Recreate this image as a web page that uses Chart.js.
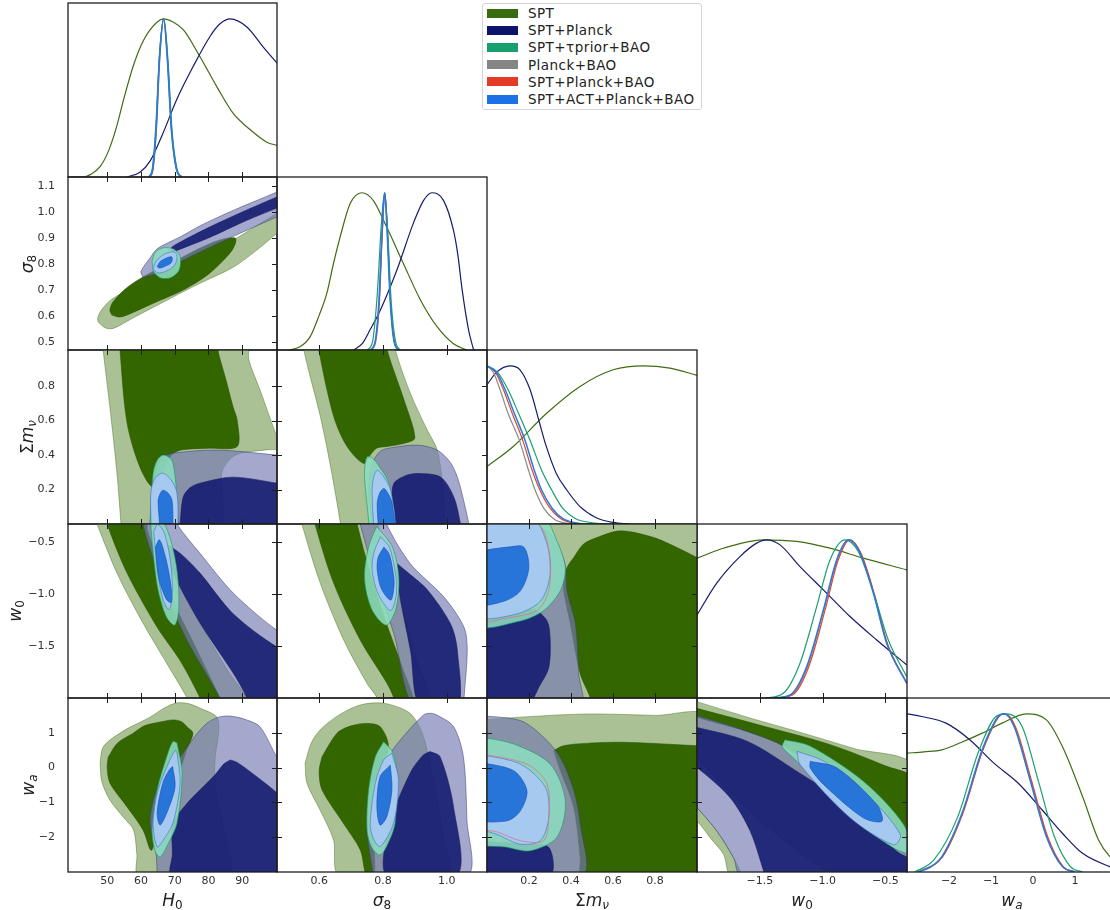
<!DOCTYPE html>
<html><head><meta charset="utf-8">
<script src="https://cdn.jsdelivr.net/npm/chart.js@4.4.1/dist/chart.umd.min.js"></script>
<style>
html,body{margin:0;padding:0;background:#fff;width:1110px;height:910px;overflow:hidden;position:relative;font-family:"DejaVu Sans",sans-serif;}
canvas{position:absolute;}
#legend{position:absolute;left:482px;top:3px;width:220px;height:107px;border:1px solid #d6d6d6;border-radius:3px;background:#fff;box-sizing:border-box;z-index:5;}
.li{position:absolute;left:4px;height:17px;display:flex;align-items:center;font-size:13.5px;letter-spacing:0.45px;color:#222;white-space:nowrap;}
.sw{width:31px;height:9px;margin-right:10px;flex:none;}
.ttl{position:absolute;font-family:"DejaVu Sans",sans-serif;font-size:17px;color:#222;white-space:nowrap;line-height:1;z-index:4;}
.ttl sub{font-size:12px;vertical-align:-0.3em;line-height:0;}
</style></head><body>
<div id="legend"></div>
<script>
// ---------------- tick labels ----------------
const H0_TICKS = [50, 60, 70, 80, 90];
const S8_XTICKS = [0.6, 0.8, 1.0];
const S8_YTICKS = [0.5, 0.6, 0.7, 0.8, 0.9, 1.0, 1.1];
const MNU_TICKS = [0.2, 0.4, 0.6, 0.8];
const W0_TICKS = [-1.5, -1.0, -0.5];
const WA_TICKS = [-2, -1, 0, 1];

const SERIES_NAMES = ['SPT', 'SPT+Planck', 'SPT+\u03c4prior+BAO', 'Planck+BAO', 'SPT+Planck+BAO', 'SPT+ACT+Planck+BAO'];

// ---------------- 1D marginals (normalised) ----------------
const H0_1D_SPT = [[38.4,0],[42.9,0],[45,0.015],[47.9,0.065],[50.5,0.17],[52.8,0.318],[55,0.5],[57.7,0.70],[60,0.83],[62.7,0.93],[66.6,1.0],[69.5,0.98],[72.6,0.93],[77.5,0.76],[82.5,0.57],[87.4,0.40],[92.3,0.30],[97.3,0.22],[100.3,0.20]];
const H0_1D_SPTPL = [[55.8,0],[59.7,0.03],[62.7,0.10],[66.6,0.28],[70.6,0.49],[75.5,0.70],[80.5,0.89],[83.5,0.97],[86.4,1.0],[91.3,0.95],[96.3,0.82],[100.3,0.72]];
const H0_1D_PLBAO = [[62.6,0],[63.6,0.05],[64.6,0.3],[65.6,0.75],[66.8,1.0],[67.9,0.75],[69.1,0.3],[70.6,0.05],[72,0]];
const H0_1D_SPTPLBAO = [[62.5,0],[63.5,0.05],[64.5,0.31],[65.5,0.76],[66.7,1.0],[67.8,0.76],[69,0.31],[70.5,0.05],[72,0]];
const H0_1D_TAU = [[62.3,0],[63.4,0.06],[64.4,0.32],[65.5,0.78],[66.8,1.0],[68.0,0.74],[69.2,0.3],[70.7,0.05],[72.2,0]];
const H0_1D_ALL = [[62.5,0],[63.5,0.05],[64.5,0.3],[65.5,0.75],[66.7,1.0],[67.8,0.75],[69,0.3],[70.5,0.05],[72,0]];

const S8_1D_SPT = [[0.509,0],[0.54,0.02],[0.572,0.085],[0.6,0.22],[0.624,0.36],[0.645,0.55],[0.666,0.72],[0.697,0.93],[0.734,1.0],[0.770,0.95],[0.812,0.78],[0.864,0.55],[0.917,0.32],[0.969,0.15],[1.021,0.04],[1.063,0]];
const S8_1D_SPTPL = [[0.708,0],[0.735,0.04],[0.760,0.13],[0.791,0.25],[0.844,0.51],[0.896,0.81],[0.927,0.95],[0.953,1.0],[0.990,0.95],[1.021,0.76],[1.035,0.6],[1.047,0.40],[1.068,0.13],[1.084,0]];
const S8_1D_PLBAO = [[0.762,0],[0.777,0.05],[0.789,0.3],[0.798,0.75],[0.806,1.0],[0.814,0.75],[0.824,0.3],[0.836,0.05],[0.85,0]];
const S8_1D_SPTPLBAO = [[0.761,0],[0.776,0.05],[0.788,0.3],[0.798,0.75],[0.806,1.0],[0.814,0.76],[0.824,0.3],[0.836,0.05],[0.85,0]];
const S8_1D_TAU = [[0.75,0],[0.767,0.05],[0.782,0.35],[0.795,0.8],[0.805,1.0],[0.815,0.75],[0.826,0.3],[0.84,0.05],[0.855,0]];
const S8_1D_ALL = [[0.76,0],[0.775,0.05],[0.787,0.3],[0.797,0.75],[0.805,1.0],[0.813,0.75],[0.823,0.3],[0.835,0.05],[0.85,0]];

const MNU_1D_SPT = [[0,0.363],[0.125,0.49],[0.284,0.70],[0.443,0.87],[0.601,0.975],[0.745,1.0],[0.871,0.985],[1.0,0.94]];
const MNU_1D_SPTPL = [[0,0.88],[0.046,0.96],[0.11,1.0],[0.157,0.975],[0.205,0.85],[0.25,0.64],[0.28,0.50],[0.33,0.32],[0.38,0.215],[0.443,0.11],[0.52,0.04],[0.6,0.01],[0.68,0]];
const MNU_1D_PLBAO = [[0,1.0],[0.03,0.96],[0.062,0.85],[0.1,0.70],[0.154,0.53],[0.2,0.33],[0.229,0.215],[0.27,0.10],[0.32,0.03],[0.38,0.005],[0.45,0]];
const MNU_1D_SPTPLBAO = [[0,1.0],[0.04,0.96],[0.078,0.85],[0.12,0.70],[0.17,0.53],[0.215,0.34],[0.252,0.215],[0.3,0.10],[0.35,0.035],[0.42,0.005],[0.5,0]];
const MNU_1D_TAU = [[0,1.0],[0.05,0.96],[0.1,0.85],[0.15,0.70],[0.205,0.53],[0.26,0.34],[0.308,0.215],[0.36,0.10],[0.42,0.035],[0.5,0.008],[0.58,0]];
const MNU_1D_ALL = [[0,1.0],[0.045,0.96],[0.086,0.85],[0.13,0.70],[0.181,0.53],[0.225,0.34],[0.26,0.215],[0.31,0.10],[0.36,0.035],[0.43,0.005],[0.5,0]];

const W0_1D_SPT = [[-2.0,0.884],[-1.79,0.947],[-1.472,1.0],[-1.206,0.99],[-0.941,0.947],[-0.676,0.884],[-0.33,0.81]];
const W0_1D_SPTPL = [[-2.0,0.525],[-1.843,0.726],[-1.658,0.894],[-1.525,0.979],[-1.445,1.0],[-1.339,0.968],[-1.18,0.831],[-0.994,0.684],[-0.782,0.515],[-0.569,0.367],[-0.33,0.209]];
const W0_1D_PLBAO = [[-1.38,0],[-1.25,0.019],[-1.12,0.198],[-0.99,0.557],[-0.882,0.873],[-0.79,1.0],[-0.698,0.916],[-0.593,0.663],[-0.487,0.346],[-0.33,0.095]];
const W0_1D_SPTPLBAO = [[-1.37,0],[-1.24,0.019],[-1.11,0.198],[-0.98,0.557],[-0.875,0.873],[-0.785,1.0],[-0.695,0.916],[-0.59,0.663],[-0.485,0.346],[-0.33,0.093]];
const W0_1D_TAU = [[-1.45,0],[-1.313,0.03],[-1.18,0.22],[-1.047,0.578],[-0.941,0.873],[-0.822,1.0],[-0.716,0.926],[-0.596,0.67],[-0.477,0.367],[-0.33,0.135]];
const W0_1D_ALL = [[-1.392,0],[-1.26,0.019],[-1.127,0.198],[-0.994,0.557],[-0.888,0.873],[-0.795,1.0],[-0.702,0.916],[-0.596,0.663],[-0.49,0.346],[-0.33,0.093]];

const WA_1D_SPT = [[-3.0,0.751],[-2.6,0.76],[-2.17,0.772],[-1.7,0.82],[-1.21,0.878],[-0.74,0.941],[-0.16,1.0],[0.32,0.962],[0.70,0.793],[1.18,0.477],[1.56,0.203],[1.83,0.097],[2.0,0.06]];
const WA_1D_SPTPL = [[-3.0,1.0],[-2.65,0.983],[-2.07,0.941],[-1.5,0.835],[-0.93,0.688],[-0.35,0.561],[0.22,0.392],[0.70,0.245],[1.18,0.118],[1.83,0.034],[2.0,0.02]];
const WA_1D_PLBAO = [[-2.74,0],[-2.16,0.097],[-1.68,0.371],[-1.2,0.772],[-0.82,0.983],[-0.68,1.0],[-0.44,0.92],[-0.06,0.582],[0.33,0.223],[0.71,0.034],[1.0,0]];
const WA_1D_SPTPLBAO = [[-2.72,0],[-2.15,0.097],[-1.67,0.371],[-1.19,0.772],[-0.81,0.983],[-0.66,1.0],[-0.42,0.92],[-0.04,0.582],[0.35,0.223],[0.72,0.034],[1.0,0]];
const WA_1D_TAU = [[-2.82,0],[-2.36,0.076],[-1.79,0.35],[-1.31,0.751],[-0.88,0.983],[-0.64,1.0],[-0.26,0.92],[0.12,0.582],[0.51,0.223],[0.89,0.034],[1.18,0]];
const WA_1D_ALL = [[-2.75,0],[-2.45,0.03],[-2.17,0.097],[-1.69,0.371],[-1.21,0.772],[-0.83,0.983],[-0.69,1.0],[-0.45,0.92],[-0.07,0.582],[0.32,0.223],[0.70,0.034],[0.99,0]];

// ---------------- 2D contours (x, y) : 95% and 68% regions ----------------
const S8_H0_SPT_95 = [[47.4,0.575],[49.5,0.553],[52,0.552],[58,0.594],[67.7,0.660],[77,0.722],[87.3,0.787],[95,0.86],[100.3,0.918],[106,0.97],[106,1.04],[100.3,0.995],[94,0.945],[87.3,0.892],[78,0.84],[69.5,0.788],[57.7,0.711],[51,0.66],[48.2,0.62],[47.2,0.59]];
const S8_H0_SPT_68 = [[51.4,0.603],[53.5,0.595],[55.9,0.603],[64,0.65],[72.5,0.699],[80,0.76],[86.4,0.842],[88,0.88],[87.9,0.900],[84,0.895],[77.5,0.861],[70,0.81],[62.7,0.765],[56,0.71],[51.7,0.653],[50.8,0.62]];
const S8_H0_SPTPL_95 = [[60.6,0.749],[65,0.765],[75,0.83],[88,0.91],[100.3,0.981],[106,1.01],[106,1.11],[100.3,1.077],[88,1.01],[78,0.95],[71.6,0.904],[65,0.86],[62.7,0.823],[60.0,0.77]];
const S8_H0_SPTPL_68 = [[69.5,0.846],[80,0.90],[90,0.96],[100.3,1.015],[106,1.04],[106,1.085],[100.3,1.058],[90,1.0],[80,0.94],[70.1,0.873],[68.8,0.858]];
const S8_H0_TAU_95 = [[63.3,0.81],[64.2,0.845],[66.5,0.862],[69.5,0.858],[71.6,0.83],[71.3,0.775],[69,0.748],[66,0.745],[63.8,0.77]];
const S8_H0_ALL_95 = [[63.6,0.78],[64.5,0.81],[67,0.838],[69.8,0.846],[70.7,0.83],[70,0.795],[67.5,0.772],[65,0.765]];
const S8_H0_ALL_68 = [[64.8,0.79],[65.8,0.81],[68,0.825],[69.2,0.826],[69,0.805],[67,0.79],[65.5,0.784]];

const MNU_H0_SPT_95 = [[48.5,1.1],[48.8,1.01],[50.8,0.679],[52.9,0.295],[54.1,0.0],[54.3,-0.05],[83,-0.05],[84,0.3],[88,0.40],[97,0.43],[102,0.44],[100.3,0.506],[95.3,0.777],[92,0.95],[91,1.1]];
const MNU_H0_SPT_68 = [[53.7,1.1],[53.8,1.01],[55.9,0.586],[59.7,0.33],[63.6,0.213],[66.5,0.3],[69,0.40],[72,0.43],[80,0.44],[88.5,0.45],[88.5,0.603],[87.3,0.679],[85,0.85],[82.8,1.01],[82.6,1.1]];
const MNU_H0_SPTPL_95 = [[62.5,-0.05],[62.7,0.0],[63.3,0.196],[64.8,0.330],[66.5,0.39],[69.5,0.411],[82.5,0.429],[100.3,0.40],[105,0.39],[105,-0.05]];
const MNU_H0_SPTPL_68 = [[71.5,-0.05],[71.6,0.0],[72.5,0.155],[74.5,0.21],[77.5,0.237],[87.3,0.272],[100.3,0.237],[105,0.22],[105,-0.05]];
const MNU_H0_TAU_95 = [[62.5,-0.05],[62.7,0.0],[63.6,0.295],[64.8,0.37],[66.5,0.40],[68.5,0.385],[69.5,0.353],[70.5,0.2],[71.0,0.0],[71.2,-0.05]];
const MNU_H0_ALL_95 = [[63.0,-0.05],[63.0,0.0],[62.9,0.178],[64.0,0.26],[66.3,0.295],[68.8,0.26],[70.7,0.178],[71.0,0.0],[71.0,-0.05]];
const MNU_H0_ALL_68 = [[65.3,-0.05],[65.5,0.0],[65.1,0.138],[65.8,0.18],[66.5,0.196],[68.0,0.18],[69.2,0.138],[69.5,0.0],[69.5,-0.05]];

const W0_H0_SPT_95 = [[46,-0.25],[47.0,-0.33],[52.9,-0.80],[60.6,-1.28],[67.7,-1.67],[73.7,-2.0],[75.0,-2.1],[92,-2.1],[85,-1.7],[76,-1.2],[68,-0.7],[63.5,-0.33],[62.5,-0.25]];
const W0_H0_SPT_68 = [[49.8,-0.25],[50.0,-0.33],[55.9,-0.80],[64.8,-1.32],[71.6,-1.64],[77.5,-2.0],[78.2,-2.1],[84.5,-2.1],[83.4,-2.0],[76,-1.5],[70,-1.1],[66,-0.75],[62,-0.4],[61,-0.25]];
const W0_H0_SPTPL_95 = [[60,-0.25],[70.5,-0.25],[70.7,-0.33],[77.5,-0.61],[87.3,-0.99],[100.3,-1.35],[105,-1.4],[105,-2.1],[84,-2.1],[83.4,-2.0],[73.7,-1.45],[67.1,-0.96],[62,-0.5]];
const W0_H0_SPTPL_68 = [[68.0,-0.53],[72,-0.62],[77.5,-0.80],[87.3,-1.19],[100.3,-1.51],[105,-1.55],[105,-2.1],[92,-2.1],[91.4,-2.0],[87.3,-1.76],[77.5,-1.28],[69.5,-0.80],[67.5,-0.62]];
const W0_H0_TAU_95 = [[62.8,-0.28],[63.6,-0.6],[65.0,-0.95],[67.5,-1.22],[70.0,-1.30],[71.2,-1.15],[70.8,-0.8],[69.0,-0.5],[66.5,-0.30],[64.5,-0.25]];
const W0_H0_ALL_95 = [[63.8,-0.40],[64.8,-0.75],[66.5,-1.05],[68.3,-1.15],[69.3,-1.0],[68.8,-0.7],[67.0,-0.42],[65.0,-0.33]];
const W0_H0_ALL_68 = [[64.3,-0.55],[65.3,-0.85],[67.5,-1.05],[69.0,-1.08],[68.8,-0.9],[67.3,-0.65],[65.5,-0.48]];

const WA_H0_SPT_95 = [[47.9,0.13],[48.6,0.55],[50.8,0.79],[56,1.12],[62.7,1.45],[67,1.72],[70.7,1.86],[74,1.84],[77.5,1.71],[82.5,1.45],[83,1.0],[82,0.3],[82,-0.6],[85,-2.0],[86,-3.1],[59.3,-3.1],[58.8,-2.5],[57.8,-1.79],[55,-1.45],[50.8,-0.93],[48.4,-0.4]];
const WA_H0_SPT_68 = [[50.3,0.30],[53,0.70],[57.7,0.99],[61,1.2],[65.7,1.31],[69.5,1.37],[72,1.32],[73.7,1.17],[75.4,0.99],[73.5,0.5],[71.6,-0.07],[67.1,-1.22],[63.3,-2.37],[62.7,-2.35],[60.6,-1.79],[55.9,-1.13],[50.8,-0.44],[50,0.0]];
const WA_H0_SPTPL_95 = [[64.8,-3.1],[64.5,-2.5],[62.7,-1.59],[63.5,-1.0],[64.8,-0.64],[68,-0.1],[71.6,0.30],[76,0.9],[79.6,1.28],[83,1.45],[86.4,1.48],[91,1.38],[95.3,1.17],[100.3,0.30],[105,-0.3],[105,-3.1]];
const WA_H0_SPTPL_68 = [[86.4,0.22],[88.5,0.15],[94.4,-0.27],[100.3,-0.73],[105,-1.2],[105,-3.1],[69.2,-3.1],[69.3,-2.5],[69.5,-1.59],[73,-1.1],[77.5,-0.64],[82,-0.2],[84.5,0.1]];
const WA_H0_TAU_95 = [[70.7,0.71],[72.2,-0.16],[70.7,-1.59],[68,-2.2],[65.7,-2.57],[64.2,-2.4],[63.3,-1.79],[64.8,-0.64],[68.0,0.42],[69.5,0.75]];
const WA_H0_ALL_95 = [[70.7,0.42],[71.6,-0.44],[69.5,-1.59],[66.5,-2.1],[64.8,-2.28],[63.6,-1.59],[65.1,-0.64],[68.5,0.2],[70.2,0.5]];
const WA_H0_ALL_68 = [[69.4,0.03],[70.1,-0.56],[68.0,-1.22],[65.7,-1.65],[64.8,-1.30],[66.5,-0.44],[68.5,-0.05]];

const MNU_S8_SPT_95 = [[0.55,1.1],[0.552,1.01],[0.604,0.622],[0.636,0.332],[0.667,0.0],[0.669,-0.05],[0.993,-0.05],[0.992,0.0],[0.989,0.196],[0.970,0.429],[0.939,0.545],[0.886,0.758],[0.839,1.01],[0.835,1.1]];
const MNU_S8_SPT_68 = [[0.597,1.1],[0.599,1.01],[0.646,0.622],[0.688,0.448],[0.740,0.351],[0.76,0.40],[0.78,0.44],[0.813,0.45],[0.87,0.47],[0.90,0.50],[0.866,0.72],[0.813,1.01],[0.81,1.1]];
const MNU_S8_SPTPL_95 = [[0.765,-0.05],[0.766,0.0],[0.756,0.177],[0.761,0.312],[0.771,0.37],[0.79,0.42],[0.813,0.438],[0.907,0.458],[0.970,0.429],[1.01,0.36],[1.033,0.273],[1.055,0.12],[1.069,0.0],[1.072,-0.05]];
const MNU_S8_SPTPL_68 = [[0.84,-0.05],[0.839,0.0],[0.829,0.138],[0.834,0.235],[0.87,0.28],[0.907,0.293],[0.980,0.273],[1.022,0.157],[1.043,0.0],[1.045,-0.05]];
const MNU_S8_TAU_95 = [[0.756,-0.05],[0.756,0.0],[0.742,0.273],[0.745,0.36],[0.751,0.390],[0.765,0.385],[0.782,0.351],[0.819,0.235],[0.839,0.0],[0.84,-0.05]];
const MNU_S8_ALL_95 = [[0.772,-0.05],[0.766,0.196],[0.772,0.28],[0.782,0.312],[0.80,0.28],[0.824,0.196],[0.835,-0.05]];
const MNU_S8_ALL_68 = [[0.787,-0.05],[0.782,0.119],[0.79,0.18],[0.803,0.206],[0.818,0.17],[0.829,0.119],[0.834,-0.05]];

const W0_S8_SPT_95 = [[0.542,-0.25],[0.547,-0.34],[0.604,-0.90],[0.678,-1.45],[0.750,-1.86],[0.782,-2.0],[0.79,-2.1],[0.95,-2.1],[0.90,-1.6],[0.854,-1.06],[0.80,-0.6],[0.765,-0.25]];
const W0_S8_SPT_68 = [[0.585,-0.25],[0.588,-0.34],[0.646,-0.90],[0.730,-1.45],[0.813,-1.86],[0.834,-2.0],[0.84,-2.1],[0.90,-2.1],[0.86,-1.7],[0.807,-1.25],[0.76,-0.8],[0.72,-0.34],[0.718,-0.25]];
const W0_S8_SPTPL_95 = [[0.728,-0.25],[0.815,-0.25],[0.813,-0.34],[0.886,-0.71],[0.991,-1.03],[1.054,-1.32],[1.064,-1.54],[1.054,-2.0],[1.052,-2.1],[0.90,-2.1],[0.834,-1.38],[0.782,-0.90],[0.730,-0.34]];
const W0_S8_SPTPL_68 = [[0.845,-0.71],[0.88,-0.8],[0.939,-0.96],[1.012,-1.29],[1.033,-1.54],[1.033,-2.1],[0.918,-2.1],[0.886,-1.54],[0.855,-1.06],[0.843,-0.8]];
const W0_S8_TAU_95 = [[0.78,-0.35],[0.755,-0.55],[0.742,-0.85],[0.765,-1.15],[0.810,-1.30],[0.840,-1.15],[0.850,-0.85],[0.830,-0.55]];
const W0_S8_ALL_95 = [[0.792,-0.45],[0.772,-0.6],[0.766,-0.77],[0.785,-1.0],[0.824,-1.16],[0.842,-1.0],[0.839,-0.8],[0.82,-0.55]];
const W0_S8_ALL_68 = [[0.803,-0.55],[0.785,-0.65],[0.782,-0.77],[0.795,-0.95],[0.824,-1.06],[0.834,-0.95],[0.834,-0.84],[0.82,-0.62]];

const WA_S8_SPT_95 = [[0.556,0.12],[0.575,0.7],[0.603,1.08],[0.66,1.5],[0.729,1.80],[0.802,1.85],[0.885,1.56],[0.927,0.89],[0.96,-0.5],[0.99,-2.0],[1.0,-3.1],[0.664,-3.1],[0.645,-2.08],[0.603,-1.22],[0.562,-0.45]];
const WA_S8_SPT_68 = [[0.609,0.31],[0.656,0.99],[0.70,1.2],[0.750,1.27],[0.791,1.18],[0.817,0.60],[0.781,-0.64],[0.772,-2.08],[0.772,-3.1],[0.748,-3.1],[0.729,-2.37],[0.676,-1.60],[0.609,-0.64],[0.6,-0.1]];
const WA_S8_SPTPL_95 = [[0.770,-3.1],[0.750,-1.79],[0.760,-0.64],[0.80,0.1],[0.854,0.79],[0.927,1.51],[0.948,1.56],[0.969,1.51],[1.021,1.18],[1.052,0.31],[1.063,-1.5],[1.065,-3.1]];
const WA_S8_SPTPL_68 = [[0.948,0.46],[0.979,0.31],[1.021,-1.12],[1.032,-3.1],[0.812,-3.1],[0.823,-1.60],[0.885,-0.16],[0.925,0.35]];
const WA_S8_TAU_95 = [[0.802,0.74],[0.83,0.45],[0.844,-0.16],[0.838,-1.60],[0.815,-2.2],[0.791,-2.51],[0.765,-2.3],[0.750,-1.79],[0.755,-0.64],[0.776,0.31]];
const WA_S8_ALL_95 = [[0.828,0.41],[0.849,-0.36],[0.833,-1.60],[0.791,-2.27],[0.768,-2.0],[0.760,-1.60],[0.776,-0.45],[0.802,0.22]];
const WA_S8_ALL_68 = [[0.823,0.07],[0.828,-0.64],[0.812,-1.41],[0.791,-1.65],[0.781,-1.12],[0.791,-0.26]];

const W0_MNU_SPT_95 = [[-0.1,-0.15],[1.1,-0.15],[1.1,-2.2],[-0.1,-2.2]];
const W0_MNU_SPT_68 = [[0.365,-0.875],[0.38,-0.75],[0.413,-0.65],[0.46,-0.52],[0.524,-0.458],[0.635,-0.394],[0.794,-0.458],[0.9,-0.55],[1.0,-0.65],[1.05,-0.7],[1.05,-2.1],[0.495,-2.1],[0.492,-2.0],[0.444,-1.77],[0.397,-1.29],[0.365,-0.97]];
const W0_MNU_SPTPL_95 = [[-0.05,-0.28],[0.15,-0.30],[0.30,-0.42],[0.37,-0.7],[0.381,-0.97],[0.421,-1.29],[0.437,-1.77],[0.445,-2.1],[-0.05,-2.1]];
const W0_MNU_SPTPL_68 = [[-0.05,-1.26],[0.095,-1.18],[0.222,-1.15],[0.286,-1.26],[0.301,-1.45],[0.294,-1.71],[0.254,-1.87],[0.18,-2.1],[-0.05,-2.1]];
const W0_MNU_TAU_95 = [[-0.05,-0.25],[0.26,-0.25],[0.333,-0.49],[0.373,-0.75],[0.349,-0.97],[0.270,-1.16],[0.159,-1.26],[-0.05,-1.29]];
const W0_MNU_ALL_95 = [[-0.05,-0.25],[0.21,-0.25],[0.286,-0.52],[0.301,-0.81],[0.254,-1.07],[0.127,-1.20],[-0.05,-1.20]];
const W0_MNU_ALL_68 = [[-0.05,-0.59],[0.10,-0.55],[0.175,-0.55],[0.199,-0.75],[0.159,-0.97],[0.080,-1.07],[-0.05,-1.09]];
const W0_MNU_SPTPLBAO_95 = [[-0.05,-0.22],[0.2,-0.25],[0.27,-0.4],[0.298,-0.65],[0.294,-0.97],[0.238,-1.16],[0.095,-1.23],[-0.05,-1.25]];

const WA_MNU_SPT_95 = [[-0.05,1.35],[0.159,1.45],[0.476,1.54],[0.8,1.5],[1.05,1.45],[1.05,-3.1],[-0.05,-3.1]];
const WA_MNU_SPT_68 = [[0.318,0.49],[0.36,0.62],[0.429,0.68],[0.635,0.73],[1.0,0.63],[1.05,0.62],[1.05,-3.1],[0.454,-3.1],[0.444,-2.58],[0.413,-1.14],[0.348,-0.07]];
const WA_MNU_SPTPL_95 = [[-0.05,1.5],[0.159,1.35],[0.270,0.87],[0.349,0.29],[0.413,-0.66],[0.444,-1.62],[0.454,-3.1],[-0.05,-3.1]];
const WA_MNU_SPTPL_68 = [[-0.05,-2.1],[0.159,-2.2],[0.294,-2.29],[0.30,-3.1],[-0.05,-3.1]];
const WA_MNU_TAU_95 = [[-0.05,0.9],[0.127,0.68],[0.301,0.10],[0.373,-0.95],[0.333,-2.0],[0.206,-2.39],[0.095,-2.29],[-0.05,-2.1]];
const WA_MNU_ALL_95 = [[-0.05,0.4],[0.159,0.10],[0.278,-0.57],[0.294,-1.43],[0.254,-2.1],[0.159,-2.2],[0.06,-1.95],[-0.05,-1.62]];
const WA_MNU_ALL_68 = [[-0.05,0.17],[0.127,-0.09],[0.190,-0.66],[0.159,-1.24],[0.095,-1.53],[-0.05,-1.43]];
const WA_MNU_SPTPLBAO_95 = [[-0.05,0.42],[0.19,0.10],[0.286,-0.47],[0.294,-1.43],[0.27,-2.1],[0.159,-2.1],[0.05,-1.85],[-0.05,-1.67]];

const WA_W0_SPT_95 = [[-2.05,1.95],[-1.6,1.45],[-1.204,1.04],[-0.75,0.55],[-0.28,0.05],[-0.28,-3.1],[-0.9,-3.1],[-2.05,0.5]];
const WA_W0_SPT_95B = [[-2.05,-1.1],[-2.0,-1.16],[-1.841,-1.83],[-1.708,-2.6],[-1.65,-3.1],[-1.74,-3.1],[-1.788,-2.50],[-1.894,-2.02],[-2.0,-1.54],[-2.05,-1.5]];
const WA_W0_SPT_68 = [[-2.05,1.75],[-1.469,1.19],[-0.939,0.66],[-0.5,0.05],[-0.28,-0.32],[-0.28,-2.15],[-0.408,-1.83],[-0.85,-0.64],[-1.283,0.56],[-1.602,1.04],[-2.05,1.52]];
const WA_W0_SPTPL_95 = [[-2.05,1.55],[-1.602,1.04],[-1.283,0.56],[-0.85,-0.64],[-0.408,-1.83],[-0.28,-2.1],[-0.28,-3.1],[-1.65,-3.1],[-1.708,-2.6],[-1.841,-1.83],[-2.0,-1.16],[-2.05,-1.1]];
const WA_W0_SPTPL_68 = [[-2.05,1.2],[-1.602,0.76],[-1.204,-0.11],[-0.806,-1.07],[-0.408,-2.41],[-0.28,-2.7],[-0.28,-3.1],[-1.46,-3.1],[-1.469,-2.98],[-1.576,-1.83],[-1.735,-0.87],[-2.0,0.0],[-2.05,0.05]];
const WA_W0_TAU_95 = [[-1.30,0.80],[-1.10,0.62],[-0.673,-0.40],[-0.354,-1.64],[-0.30,-2.45],[-0.434,-2.31],[-0.806,-1.35],[-1.204,0.18],[-1.32,0.6]];
const WA_W0_ALL_95 = [[-1.204,0.47],[-0.991,0.18],[-0.620,-0.87],[-0.381,-1.93],[-0.434,-2.22],[-0.779,-1.45],[-1.178,0.08]];
const WA_W0_ALL_68 = [[-1.098,0.18],[-0.885,-0.01],[-0.567,-1.07],[-0.527,-1.54],[-0.673,-1.45],[-0.991,-0.49],[-1.098,-0.01]];

// ---------------- styles / layout ----------------
const FONT = '"DejaVu Sans", sans-serif';
const COLX = [68, 277, 487, 697, 907, 1117];
const ROWY = [3, 177, 350, 524, 698, 872];
const LEGEND_COL = ['#386a0e', '#0c136a', '#17a06e', '#858585', '#e23b26', '#1a72e6'];
const LINE_COL = ['#3f6d14', '#161c6c', '#8a8a8a', '#e0452b', '#1a9e72', '#2a78e0'];
const FILL = {SPT95:'#aac196', SPT68:'#346600', SPTPL95:'rgba(116,121,178,0.65)', SPTPL68:'rgba(20,28,112,0.9)', TAU95:'rgba(140,220,190,0.88)', ALL95:'rgba(168,200,243,0.92)', ALL68:'rgba(32,112,216,0.94)', SPTPLBAO95:'rgba(0,0,0,0)'};
const EDGE = {SPT95:'rgba(52,102,0,0.45)', SPT68:'rgba(40,80,0,0.6)', SPTPL95:'rgba(60,65,120,0.6)', SPTPL68:'rgba(20,25,90,0.6)', TAU95:'rgba(20,150,100,0.65)', ALL95:'rgba(60,100,190,0.6)', ALL68:'rgba(20,80,190,0.7)', SPTPLBAO95:'rgba(215,120,140,0.8)'};

const minus = s => s.replace('-', '\u2212');
const VARS = [
  {min:38.4, max:100.3, ymin:38.4, ymax:100.3, xt:H0_TICKS, yt:H0_TICKS, fmt:v=>String(v)},
  {min:0.468, max:1.126, ymin:0.468, ymax:1.135, xt:S8_XTICKS, yt:S8_YTICKS, fmt:v=>v.toFixed(1)},
  {min:0, max:1.0, ymin:0, ymax:1.01, xt:MNU_TICKS, yt:MNU_TICKS, fmt:v=>v.toFixed(1)},
  {min:-2.0, max:-0.328, ymin:-2.0, ymax:-0.328, xt:W0_TICKS, yt:W0_TICKS, fmt:v=>minus(v.toFixed(1))},
  {min:-3, max:2, ymin:-3, ymax:2, xt:WA_TICKS, yt:WA_TICKS, fmt:v=>minus(String(v))}
];

const ONE_D = [
  [H0_1D_SPT, H0_1D_SPTPL, H0_1D_PLBAO, H0_1D_SPTPLBAO, H0_1D_TAU, H0_1D_ALL],
  [S8_1D_SPT, S8_1D_SPTPL, S8_1D_PLBAO, S8_1D_SPTPLBAO, S8_1D_TAU, S8_1D_ALL],
  [MNU_1D_SPT, MNU_1D_SPTPL, MNU_1D_PLBAO, MNU_1D_SPTPLBAO, MNU_1D_TAU, MNU_1D_ALL],
  [W0_1D_SPT, W0_1D_SPTPL, W0_1D_PLBAO, W0_1D_SPTPLBAO, W0_1D_TAU, W0_1D_ALL],
  [WA_1D_SPT, WA_1D_SPTPL, WA_1D_PLBAO, WA_1D_SPTPLBAO, WA_1D_TAU, WA_1D_ALL]
];
const TWO_D = [
  [1,0,[['SPT95',S8_H0_SPT_95],['SPT68',S8_H0_SPT_68],['SPTPL95',S8_H0_SPTPL_95],['SPTPL68',S8_H0_SPTPL_68],['TAU95',S8_H0_TAU_95],['ALL95',S8_H0_ALL_95],['ALL68',S8_H0_ALL_68]]],
  [2,0,[['SPT95',MNU_H0_SPT_95],['SPT68',MNU_H0_SPT_68],['SPTPL95',MNU_H0_SPTPL_95],['SPTPL68',MNU_H0_SPTPL_68],['TAU95',MNU_H0_TAU_95],['ALL95',MNU_H0_ALL_95],['ALL68',MNU_H0_ALL_68]]],
  [2,1,[['SPT95',MNU_S8_SPT_95],['SPT68',MNU_S8_SPT_68],['SPTPL95',MNU_S8_SPTPL_95],['SPTPL68',MNU_S8_SPTPL_68],['TAU95',MNU_S8_TAU_95],['ALL95',MNU_S8_ALL_95],['ALL68',MNU_S8_ALL_68]]],
  [3,0,[['SPT95',W0_H0_SPT_95],['SPT68',W0_H0_SPT_68],['SPTPL95',W0_H0_SPTPL_95],['SPTPL68',W0_H0_SPTPL_68],['TAU95',W0_H0_TAU_95],['ALL95',W0_H0_ALL_95],['ALL68',W0_H0_ALL_68]]],
  [3,1,[['SPT95',W0_S8_SPT_95],['SPT68',W0_S8_SPT_68],['SPTPL95',W0_S8_SPTPL_95],['SPTPL68',W0_S8_SPTPL_68],['TAU95',W0_S8_TAU_95],['ALL95',W0_S8_ALL_95],['ALL68',W0_S8_ALL_68]]],
  [3,2,[['SPT95',W0_MNU_SPT_95],['SPT68',W0_MNU_SPT_68],['SPTPL95',W0_MNU_SPTPL_95],['SPTPL68',W0_MNU_SPTPL_68],['TAU95',W0_MNU_TAU_95],['ALL95',W0_MNU_ALL_95],['SPTPLBAO95',W0_MNU_SPTPLBAO_95],['ALL68',W0_MNU_ALL_68]]],
  [4,0,[['SPT95',WA_H0_SPT_95],['SPT68',WA_H0_SPT_68],['SPTPL95',WA_H0_SPTPL_95],['SPTPL68',WA_H0_SPTPL_68],['TAU95',WA_H0_TAU_95],['ALL95',WA_H0_ALL_95],['ALL68',WA_H0_ALL_68]]],
  [4,1,[['SPT95',WA_S8_SPT_95],['SPT68',WA_S8_SPT_68],['SPTPL95',WA_S8_SPTPL_95],['SPTPL68',WA_S8_SPTPL_68],['TAU95',WA_S8_TAU_95],['ALL95',WA_S8_ALL_95],['ALL68',WA_S8_ALL_68]]],
  [4,2,[['SPT95',WA_MNU_SPT_95],['SPT68',WA_MNU_SPT_68],['SPTPL95',WA_MNU_SPTPL_95],['SPTPL68',WA_MNU_SPTPL_68],['TAU95',WA_MNU_TAU_95],['ALL95',WA_MNU_ALL_95],['SPTPLBAO95',WA_MNU_SPTPLBAO_95],['ALL68',WA_MNU_ALL_68]]],
  [4,3,[['SPT95',WA_W0_SPT_95],['SPT95',WA_W0_SPT_95B],['SPT68',WA_W0_SPT_68],['SPTPL95',WA_W0_SPTPL_95],['SPTPL68',WA_W0_SPTPL_68],['TAU95',WA_W0_TAU_95],['ALL95',WA_W0_ALL_95],['ALL68',WA_W0_ALL_68]]]
];

// ---------------- plugin: frame + inward ticks ----------------
const deco = {
  id: 'deco',
  afterDraw(chart, args, o) {
    const {ctx, chartArea: a} = chart;
    const x = chart.scales.x, y = chart.scales.y;
    const L = 5;
    ctx.save();
    ctx.strokeStyle = '#1e1e1e';
    ctx.lineWidth = 1;
    ctx.beginPath();
    (o.xt || []).forEach(v => {
      const p = Math.round(x.getPixelForValue(v)) + 0.5;
      if (o.bottom) { ctx.moveTo(p, a.bottom); ctx.lineTo(p, a.bottom - L); }
      if (o.top) { ctx.moveTo(p, a.top); ctx.lineTo(p, a.top + L); }
    });
    (o.yt || []).forEach(v => {
      const p = Math.round(y.getPixelForValue(v)) + 0.5;
      if (o.left) { ctx.moveTo(a.left, p); ctx.lineTo(a.left + L, p); }
      if (o.right) { ctx.moveTo(a.right, p); ctx.lineTo(a.right - L, p); }
    });
    ctx.stroke();
    ctx.lineWidth = 1.3;
    ctx.strokeRect(a.left, a.top, a.right - a.left, a.bottom - a.top);
    ctx.restore();
  }
};

function closed(arr) {
  const p = arr.map(([x, y]) => ({x, y}));
  p.push({x: arr[0][0], y: arr[0][1]});
  return p;
}

function makePanel(r, c, datasets, is1D) {
  const xv = VARS[c], yv = VARS[r];
  const x0 = COLX[c], y0 = ROWY[r], w = COLX[c+1] - x0, h = ROWY[r+1] - y0;
  const showY = (c === 0 && r > 0), showX = (r === 4);
  const padL = showY ? x0 : 4, padT = 4, padR = 4, padB = showX ? 40 : 4;
  const cv = document.createElement('canvas');
  cv.width = w + padL + padR; cv.height = h + padT + padB;
  cv.style.left = (x0 - padL) + 'px'; cv.style.top = (y0 - padT) + 'px';
  document.body.appendChild(cv);
  const tickFont = {family: FONT, size: 11};
  const zeroPad = s => { s.paddingLeft = 0; s.paddingRight = 0; s.paddingTop = 0; s.paddingBottom = 0; };
  new Chart(cv, {
    type: 'scatter',
    data: {datasets},
    options: {
      responsive: false, animation: false, events: [],
      layout: {padding: {left: showY ? 0 : padL, top: padT, right: padR, bottom: showX ? 0 : padB}},
      plugins: {legend: {display: false}, tooltip: {enabled: false},
        deco: {xt: xv.xt, yt: is1D ? [] : yv.yt, bottom: r < 4, top: r > c, left: !is1D && c > 0, right: !is1D}},
      scales: {
        x: {type: 'linear', min: xv.min, max: xv.max, display: showX,
          grid: {display: false, drawTicks: false}, border: {display: false},
          afterBuildTicks: s => { s.ticks = xv.xt.map(v => ({value: v})); },
          afterFit: s => { if (showX) s.height = 40; zeroPad(s); },
          ticks: {font: tickFont, color: '#303030', padding: 3, maxRotation: 0, autoSkip: false, callback: v => xv.fmt(v)}},
        y: {type: 'linear', min: is1D ? 0 : yv.ymin, max: is1D ? 1.1 : yv.ymax, display: showY,
          grid: {display: false, drawTicks: false}, border: {display: false},
          afterBuildTicks: s => { s.ticks = yv.yt.map(v => ({value: v})); },
          afterFit: s => { if (showY) s.width = x0; zeroPad(s); },
          ticks: {font: tickFont, color: '#303030', padding: 13, autoSkip: false, callback: v => yv.fmt(v)}}
      }
    },
    plugins: [deco]
  });
}

for (let i = 0; i < 5; i++) {
  const ds = ONE_D[i].map((arr, k) => ({
    label: SERIES_NAMES[k], data: arr.map(([x, y]) => ({x, y})), showLine: true, fill: false,
    borderColor: LINE_COL[k], borderWidth: (k === 5 ? 1.5 : 1.2), pointRadius: 0, tension: 0,
    cubicInterpolationMode: 'monotone'
  }));
  makePanel(i, i, ds.reverse(), true);
}
const LABEL_OF = {SPT95:0, SPT68:0, SPTPL95:1, SPTPL68:1, TAU95:2, SPTPLBAO95:4, ALL95:5, ALL68:5};
TWO_D.forEach(([r, c, list]) => {
  const ds = list.map(([key, arr]) => ({
    label: SERIES_NAMES[LABEL_OF[key]] + (key.endsWith('95') ? ' 95%' : ' 68%'),
    data: closed(arr), showLine: true, fill: key === 'SPTPLBAO95' ? false : 'shape',
    backgroundColor: FILL[key], borderColor: EDGE[key], borderWidth: key === 'SPTPLBAO95' ? 1 : 0.9,
    pointRadius: 0, tension: 0.3
  }));
  makePanel(r, c, ds.reverse(), false);
});

const lg = document.getElementById('legend');
const CENTERS = [13.3, 30.3, 47.3, 64.5, 81.7, 99];
SERIES_NAMES.forEach((n, i) => {
  const d = document.createElement('div');
  d.className = 'li';
  d.style.top = (CENTERS[i] - 3 - 1 - 8.5) + 'px';
  d.innerHTML = '<span class="sw" style="background:' + LEGEND_COL[i] + '"></span><span>' + n + '</span>';
  lg.appendChild(d);
});

const TITLES = ['<i>H</i><sub>0</sub>', '<i>\u03c3</i><sub>8</sub>', '\u03a3<i>m</i><sub><i>\u03bd</i></sub>', '<i>w</i><sub>0</sub>', '<i>w</i><sub><i>a</i></sub>'];
const YT_X = [0, 27, 27, 15, 28];
TITLES.forEach((t, i) => {
  const d = document.createElement('div');
  d.className = 'ttl'; d.innerHTML = t;
  d.style.left = ((COLX[i] + COLX[i+1]) / 2) + 'px';
  d.style.top = '900px';
  d.style.transform = 'translate(-50%,-50%)';
  document.body.appendChild(d);
  if (i > 0) {
    const e = document.createElement('div');
    e.className = 'ttl'; e.innerHTML = t;
    e.style.left = YT_X[i] + 'px';
    e.style.top = ((ROWY[i] + ROWY[i+1]) / 2) + 'px';
    e.style.transform = 'translate(-50%,-50%) rotate(-90deg)';
    document.body.appendChild(e);
  }
});
</script>
</body></html>
